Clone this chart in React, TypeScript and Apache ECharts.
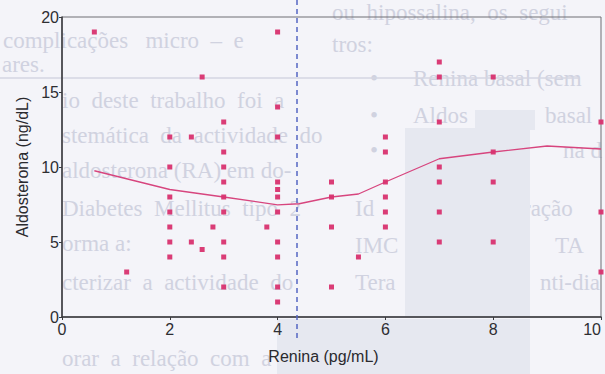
import React, { useEffect, useRef } from "react";
import * as echarts from "echarts";

// Scatter data: Renina (pg/mL) vs Aldosterona (ng/dL)
const pointsX = [
  0.6, 1.2,
  2, 2, 2, 2, 2, 2, 2,
  2.4, 2.4, 2.6, 2.6, 2.8,
  3, 3, 3, 3, 3, 3, 3, 3, 3,
  3.8,
  4, 4, 4, 4, 4, 4, 4, 4, 4, 4, 4,
  5, 5, 5, 5, 5.5,
  6, 6, 6, 6, 6, 6,
  7, 7, 7, 7, 7, 7, 7,
  8, 8, 8, 8,
  10, 10, 10,
];
const pointsY = [
  19, 3,
  12, 10, 8, 7, 6, 5, 4,
  12, 5, 16, 4.5, 6,
  13, 11, 10, 9, 8, 7, 5, 4, 2,
  6,
  19, 14, 12, 9, 8.5, 8, 7, 5, 4, 2, 1,
  9, 8, 6, 2, 4,
  12, 11, 9, 8, 7, 6,
  17, 16, 13, 10, 9, 7, 5,
  16, 11, 9, 5,
  13, 7, 3,
];

// Smoothed trend line
const trendX = [0.6, 2, 3, 4, 4.4, 5, 5.5, 6, 7, 8, 9, 10];
const trendY = [9.75, 8.5, 8.0, 7.48, 7.55, 8.0, 8.2, 9.0, 10.55, 11.0, 11.4, 11.2];

// Cut-off (dashed vertical)
const cutoffX = 4.36;

const xTicks = [0, 2, 4, 6, 8, 10];
const yTicks = [0, 5, 10, 15, 20];

// Faint background page text (bleed-through of the scanned document)
const bgTexts: { t: string; x: number; y: number }[] = [
  { t: "complicações   micro  –  e", x: 3, y: 40 },
  { t: "ares.", x: 2, y: 64 },
  { t: "io  deste  trabalho  foi  a", x: 62, y: 100 },
  { t: "stemática  da  actividade  do", x: 62, y: 135 },
  { t: "aldosterona (RA) em do-", x: 62, y: 170 },
  { t: "Diabetes  Mellitus  tipo  2", x: 62, y: 208 },
  { t: "orma a:", x: 62, y: 243 },
  { t: "cterizar  a  actividade  do", x: 62, y: 282 },
  { t: "orar  a  relação  com  a", x: 62, y: 358 },
  { t: "ou  hipossalina,  os  segui", x: 332, y: 12 },
  { t: "tros:", x: 332, y: 44 },
  { t: "•", x: 370, y: 78 },
  { t: "Renina basal (sem", x: 413, y: 78 },
  { t: "•", x: 370, y: 115 },
  { t: "Aldos", x: 413, y: 115 },
  { t: "basal", x: 545, y: 115 },
  { t: "•", x: 370, y: 150 },
  { t: "na d", x: 563, y: 150 },
  { t: "Id", x: 355, y: 208 },
  { t: "ração", x: 523, y: 208 },
  { t: "IMC", x: 355, y: 245 },
  { t: "TA", x: 555, y: 245 },
  { t: "Tera", x: 355, y: 282 },
  { t: "nti-dia", x: 540, y: 282 },
];

export default function App() {
  const ref = useRef<HTMLDivElement>(null);

  useEffect(() => {
    if (!ref.current) return;
    const chart = echarts.init(ref.current, null, { renderer: "svg" });
    const scatterData = pointsX.map((x, i) => [x, pointsY[i]]);
    const trendData = trendX.map((x, i) => [x, trendY[i]]);
    const font = "'Liberation Sans', Arial, sans-serif";

    const option: any = {
      animation: false,
      backgroundColor: "#f4f4f9",
      grid: {
        left: 62,
        right: 4,
        top: 17,
        bottom: 57,
        show: true,
        borderColor: "#6e6e74",
        borderWidth: 1,
        backgroundColor: "transparent",
        outerBoundsMode: "none",
      },
      xAxis: {
        type: "value",
        min: 0,
        max: 10,
        interval: 2,
        name: "Renina (pg/mL)",
        nameLocation: "middle",
        nameGap: 31,
        nameTextStyle: { fontFamily: font, fontSize: 16, color: "#2a2a2e", padding: [0, 16, 0, 0] },
        axisLine: { show: true, onZero: false, lineStyle: { color: "#3a3a3e", width: 1.5 } },
        axisTick: { show: true, length: 3, lineStyle: { color: "#3a3a3e" } },
        axisLabel: {
          fontFamily: font,
          fontSize: 16,
          color: "#2e2e32",
          margin: 4,
          alignMaxLabel: "right",
          formatter: (v: number) => (xTicks.includes(v) ? String(v) : ""),
        },
        splitLine: { show: false },
      },
      yAxis: {
        type: "value",
        min: 0,
        max: 20,
        interval: 5,
        name: "Aldosterona (ng/dL)",
        nameLocation: "middle",
        nameGap: 32,
        nameTextStyle: { fontFamily: font, fontSize: 16, color: "#2a2a2e" },
        axisLine: { show: true, onZero: false, lineStyle: { color: "#3a3a3e", width: 1.5 } },
        axisTick: { show: true, length: 3, lineStyle: { color: "#3a3a3e" } },
        axisLabel: {
          fontFamily: font,
          fontSize: 16,
          color: "#2e2e32",
          margin: 3,
          formatter: (v: number) => (yTicks.includes(v) ? String(v) : ""),
        },
        splitLine: { show: false },
      },
      series: [
        {
          type: "line",
          data: trendData,
          showSymbol: false,
          symbol: "none",
          smooth: false,
          lineStyle: { color: "#d7457e", width: 1.3 },
          z: 3,
        },
        {
          type: "scatter",
          data: scatterData,
          symbol: "rect",
          symbolSize: 5,
          itemStyle: { color: "#d8326f", opacity: 0.95 },
          z: 4,
        },
      ],
    };
    chart.setOption(option);

    const px = chart.convertToPixel({ xAxisIndex: 0 }, cutoffX) as number;

    const bgElements: any[] = bgTexts.map((b) => ({
      type: "text",
      x: b.x,
      y: b.y,
      z: -10,
      silent: true,
      style: {
        text: b.t,
        fill: "#d0d2e0",
        font: "23px 'Liberation Serif', 'DejaVu Serif', serif",
        verticalAlign: "middle",
        align: "left",
      },
    }));

    const rects: any[] = [
      { type: "rect", z: -5, silent: true, shape: { x: 405, y: 128, width: 125, height: 190 }, style: { fill: "#e6e8f0" } },
      { type: "rect", z: -5, silent: true, shape: { x: 475, y: 110, width: 60, height: 20 }, style: { fill: "#e6e8f0" } },
      { type: "rect", z: -5, silent: true, shape: { x: 277, y: 319, width: 253, height: 55 }, style: { fill: "#e6e8f0" } },
      { type: "line", z: -4, silent: true, shape: { x1: 0, y1: 78, x2: 580, y2: 78 }, style: { stroke: "#d4d6e2", lineWidth: 1.5 } },
    ];

    chart.setOption({
      graphic: [
        ...bgElements,
        ...rects,
        {
          type: "line",
          z: 10,
          silent: true,
          shape: { x1: px, y1: 0, x2: px, y2: 340 },
          style: { stroke: "#5566c2", lineWidth: 1.5, lineDash: [5, 4] },
        },
      ],
    });

    return () => chart.dispose();
  }, []);

  return (
    <div
      ref={ref}
      style={{ position: "fixed", left: 0, top: 0, width: 605, height: 374 }}
    />
  );
}
